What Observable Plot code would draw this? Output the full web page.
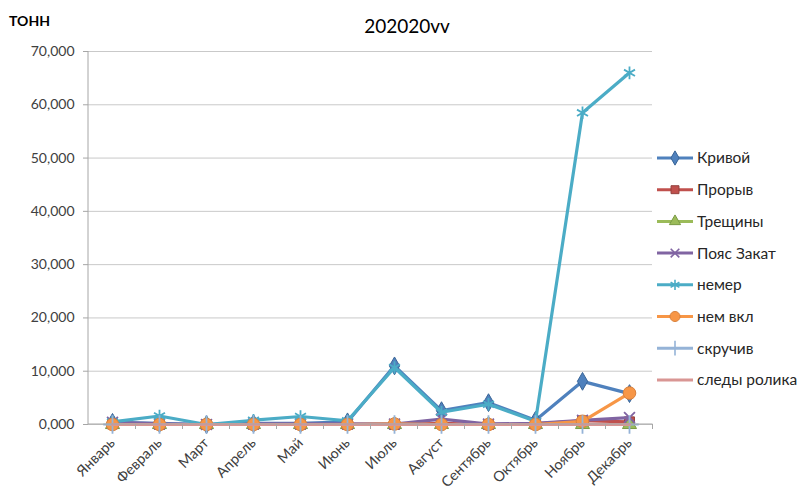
<!DOCTYPE html>
<html>
<head>
<meta charset="utf-8">
<script src="https://cdn.jsdelivr.net/npm/d3@7"></script>
<script src="https://cdn.jsdelivr.net/npm/@observablehq/plot@0.6"></script>
<style>
  body { margin: 0; background: #fff; }
  #chart { width: 803px; height: 493px; }
</style>
</head>
<body>
<div id="chart"></div>
<script>
// Months of the year (category axis)
const months = ["Январь", "Февраль", "Март", "Апрель", "Май", "Июнь",
                "Июль", "Август", "Сентябрь", "Октябрь", "Ноябрь", "Декабрь"];

// Monthly tonnage per defect type
const krivoy     = [0.4, 0.2, 0.0, 0.2, 0.2, 0.5, 11.0, 2.6, 4.1, 0.8, 8.1, 5.8];
const proryv     = [0.1, 0.0, 0.0, 0.0, 0.0, 0.0, 0.0, 0.2, 0.0, 0.1, 0.7, 0.5];
const treshchiny = [0.0, 0.0, 0.0, 0.0, 0.0, 0.0, 0.0, 0.0, 0.0, 0.0, 0.0, 0.0];
const poyasZakat = [0.4, 0.1, 0.0, 0.1, 0.1, 0.1, 0.1, 1.0, 0.1, 0.2, 0.8, 1.3];
const nemer      = [0.5, 1.6, 0.0, 0.8, 1.5, 0.7, 10.7, 2.3, 3.8, 0.6, 58.5, 66.0];
const nemVkl     = [0.0, 0.0, 0.0, 0.0, 0.0, 0.0, 0.1, 0.0, 0.0, 0.0, 0.6, 5.9];
const skruchiv   = [0.0, 0.0, 0.0, 0.0, 0.0, 0.0, 0.0, 0.0, 0.0, 0.0, 0.0, 0.0];
const sledyRolika= [0.0, 0.0, 0.0, 0.0, 0.0, 0.0, 0.0, 0.0, 0.0, 0.0, 0.0, 0.0];

const seriesNames = ["Кривой", "Прорыв", "Трещины", "Пояс Закат", "немер", "нем вкл", "скручив", "следы ролика"];
const seriesValues = [krivoy, proryv, treshchiny, poyasZakat, nemer, nemVkl, skruchiv, sledyRolika];

// Y axis ticks (tonnes)
const yTicks = [0, 10, 20, 30, 40, 50, 60, 70];

const titleText = "202020vv";
const unitText = "ТОНН";

// Styling per series
const seriesColors = ["#4F81BD", "#C0504D", "#9BBB59", "#8064A2", "#4BACC6", "#F79646", "#95B3D7", "#D99694"];
const markerStrokes = ["#3A6597", "#93403D", "#7A9A45", "#604C80", "#4BACC6", "#D9823E", "#95B3D7", null];
const seriesSymbols = ["diamond", "square", "triangle", "times", "asterisk", "circle", "plus", null];
const d3Symbols = {
  diamond: d3.symbolDiamond, square: d3.symbolSquare, triangle: d3.symbolTriangle,
  times: d3.symbolTimes, asterisk: d3.symbolAsterisk, circle: d3.symbolCircle, plus: d3.symbolPlus
};
const hollow = new Set(["times", "asterisk", "plus"]);
const markerR = {diamond: 5.4, square: 5.6, triangle: 5.2, times: 5.0, asterisk: 6.0, circle: 6.3, plus: 6.0};

const rows = seriesNames.flatMap((name, s) =>
  months.map((m, i) => ({series: name, month: m, value: seriesValues[s][i]})));

// Russian number formatting with decimal comma: 70,000
const ruFmt = d3.formatLocale({decimal: ",", thousands: " ", grouping: [3], currency: ["", ""]}).format(".3f");

const W = 803, H = 493;
const M = {top: 51, right: 151, bottom: 69, left: 88};
const axisGray = "#a6a6a6";
const textColor = "#404040";

const marks = [
  Plot.gridY(yTicks, {stroke: "#c9c9c9", strokeOpacity: 1, strokeWidth: 1})
];
seriesNames.forEach((name, s) => {
  const data = rows.filter(d => d.series === name);
  marks.push(Plot.line(data, {
    x: "month", y: "value", stroke: seriesColors[s], strokeWidth: 3.2,
    strokeLinejoin: "round", strokeLinecap: "round"
  }));
  const sym = seriesSymbols[s];
  if (sym) {
    marks.push(Plot.dot(data, hollow.has(sym)
      ? {x: "month", y: "value", symbol: sym, r: markerR[sym], stroke: seriesColors[s], strokeWidth: 1.8, fill: "none"}
      : {x: "month", y: "value", symbol: sym, r: markerR[sym], fill: seriesColors[s], stroke: markerStrokes[s], strokeWidth: 1}));
  }
});

const chart = Plot.plot({
  width: W, height: H,
  marginTop: M.top, marginRight: M.right, marginBottom: M.bottom, marginLeft: M.left,
  style: {fontFamily: "Lato, 'Open Sans', sans-serif", fontSize: "14px", color: textColor, background: "#fff"},
  x: {type: "point", domain: months, padding: 0.5, tickRotate: -45, tickSize: 0, tickPadding: 16, label: null},
  y: {domain: [0, 70], ticks: yTicks, tickFormat: ruFmt, tickSize: 5, tickPadding: 9, label: null},
  marks
});
document.getElementById("chart").appendChild(chart);

// Axis lines, category separators, title and legend
const svg = d3.select(chart);
svg.selectAll('g[aria-label^="y-axis"] line, g[aria-label="y-axis tick"] path').attr("stroke", axisGray);
svg.selectAll('g[aria-label^="x-axis"] text').attr("font-size", 14.5);

const xs = chart.scale("x"), ys = chart.scale("y");
const y0 = ys.apply(0), yTop = ys.apply(70);
const pos = months.map(m => xs.apply(m));
const step = pos[1] - pos[0];
const deco = svg.append("g");
deco.append("line").attr("x1", M.left).attr("x2", M.left).attr("y1", yTop).attr("y2", y0)
  .attr("stroke", axisGray);
deco.append("line").attr("x1", M.left).attr("x2", pos[pos.length - 1] + step / 2).attr("y1", y0).attr("y2", y0)
  .attr("stroke", axisGray);
pos.forEach(p => {
  deco.append("line").attr("x1", p + step / 2).attr("x2", p + step / 2).attr("y1", y0).attr("y2", y0 + 5)
    .attr("stroke", axisGray);
});

svg.append("text").attr("x", 407).attr("y", 33).attr("text-anchor", "middle")
  .attr("font-size", 19).attr("fill", "#000").text(titleText);
svg.append("text").attr("x", 9).attr("y", 26).attr("text-anchor", "start")
  .attr("font-size", 14).attr("font-weight", "bold").attr("fill", "#000").text(unitText);

const legend = svg.append("g").attr("text-anchor", "start");
seriesNames.forEach((name, s) => {
  const ly = 158 + s * 31.7;
  const g = legend.append("g").attr("transform", `translate(657,${ly})`);
  g.append("line").attr("x1", 0).attr("x2", 36).attr("y1", 0).attr("y2", 0)
    .attr("stroke", seriesColors[s]).attr("stroke-width", 3);
  const sym = seriesSymbols[s];
  if (sym) {
    const r = markerR[sym] * 0.8;
    const p = g.append("path").attr("transform", "translate(18,0)")
      .attr("d", d3.symbol(d3Symbols[sym], r * r * Math.PI)());
    if (hollow.has(sym)) p.attr("fill", "none").attr("stroke", seriesColors[s]).attr("stroke-width", 1.6);
    else p.attr("fill", seriesColors[s]).attr("stroke", markerStrokes[s]);
  }
  g.append("text").attr("x", 40).attr("y", 0).attr("dy", "0.35em").attr("text-anchor", "start")
    .attr("font-size", 15.5).attr("fill", "#262626").text(name);
});
</script>
</body>
</html>
